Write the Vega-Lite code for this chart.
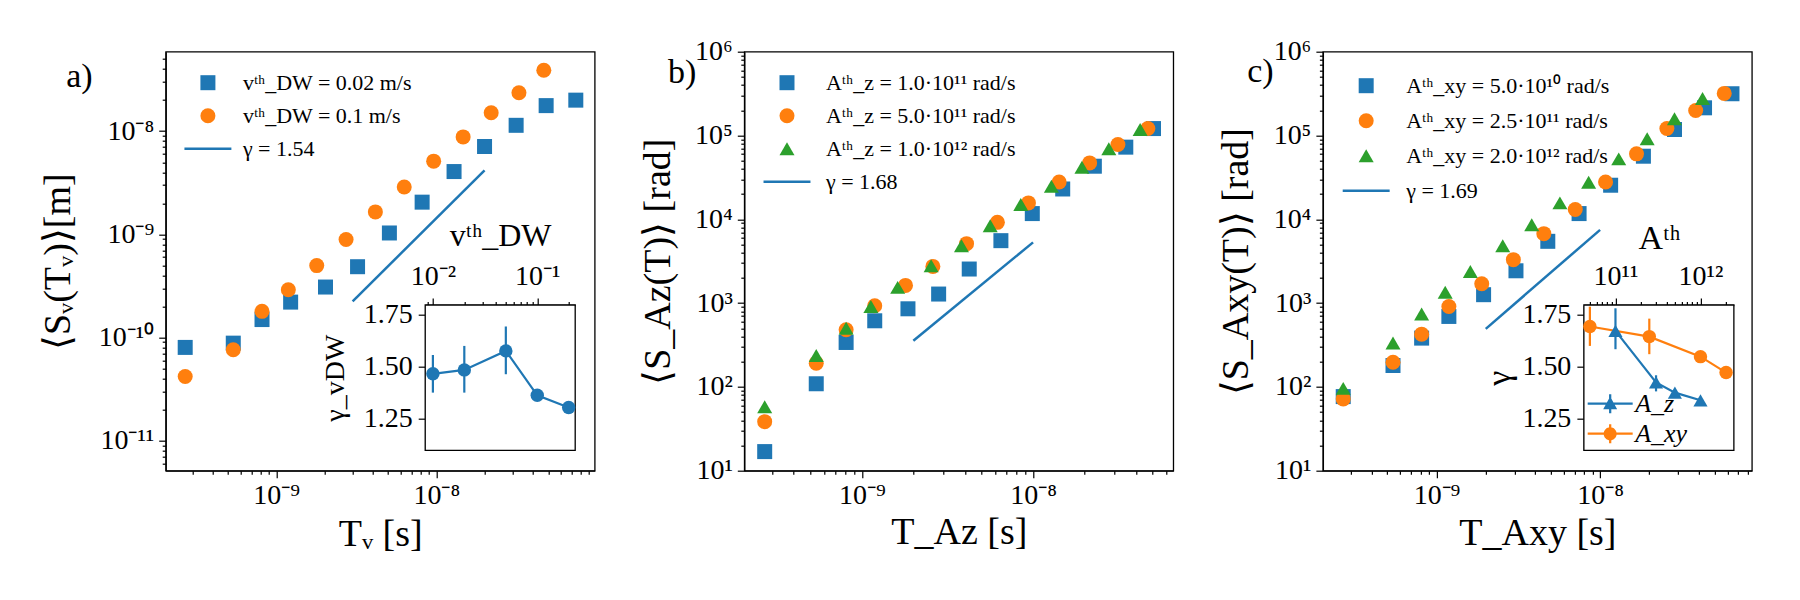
{
"$schema": "https://vega.github.io/schema/vega-lite/v6.json",
"background": "white",
"padding": {"left": 38.7, "top": 36.7, "right": 5, "bottom": 5},
"bounds": "flush",
"spacing": 149.6,
"config": {
  "font": "Liberation Serif",
  "view": {"stroke": "black", "strokeWidth": 1.3},
  "axis": {"grid": false, "domainColor": "black", "domainWidth": 1.3, "tickColor": "black", "tickWidth": 1.2, "labelColor": "black", "titleColor": "black", "labelFont": "Liberation Serif", "titleFont": "Liberation Serif", "titleFontWeight": "normal", "labelFontSize": 28, "titleFontSize": 38, "labelOverlap": false, "labelFlush": false, "titleBaseline": "middle"},
  "legend": {"labelFont": "Liberation Serif", "labelColor": "black", "labelFontSize": 22, "labelLimit": 600, "symbolStrokeWidth": 0, "padding": 0},
  "title": {"font": "Liberation Serif", "fontWeight": "normal", "fontSize": 34, "color": "black"}
},
"datasets": {
  "a_main": [
    {"series": "vᵗʰ_DW = 0.02 m/s", "T": 2.70e-10, "S": 8.0e-11},
    {"series": "vᵗʰ_DW = 0.02 m/s", "T": 5.39e-10, "S": 8.8e-11},
    {"series": "vᵗʰ_DW = 0.02 m/s", "T": 8.15e-10, "S": 1.49e-10},
    {"series": "vᵗʰ_DW = 0.02 m/s", "T": 1.23e-9, "S": 2.2e-10},
    {"series": "vᵗʰ_DW = 0.02 m/s", "T": 2.03e-9, "S": 3.08e-10},
    {"series": "vᵗʰ_DW = 0.02 m/s", "T": 3.22e-9, "S": 4.85e-10},
    {"series": "vᵗʰ_DW = 0.02 m/s", "T": 5.09e-9, "S": 1.03e-9},
    {"series": "vᵗʰ_DW = 0.02 m/s", "T": 8.15e-9, "S": 2.05e-9},
    {"series": "vᵗʰ_DW = 0.02 m/s", "T": 1.29e-8, "S": 4.06e-9},
    {"series": "vᵗʰ_DW = 0.02 m/s", "T": 2.0e-8, "S": 7.1e-9},
    {"series": "vᵗʰ_DW = 0.02 m/s", "T": 3.15e-8, "S": 1.14e-8},
    {"series": "vᵗʰ_DW = 0.02 m/s", "T": 4.85e-8, "S": 1.77e-8},
    {"series": "vᵗʰ_DW = 0.02 m/s", "T": 7.43e-8, "S": 2.0e-8},
    {"series": "vᵗʰ_DW = 0.1 m/s", "T": 2.70e-10, "S": 4.18e-11},
    {"series": "vᵗʰ_DW = 0.1 m/s", "T": 5.39e-10, "S": 7.6e-11},
    {"series": "vᵗʰ_DW = 0.1 m/s", "T": 8.15e-10, "S": 1.79e-10},
    {"series": "vᵗʰ_DW = 0.1 m/s", "T": 1.19e-9, "S": 2.9e-10},
    {"series": "vᵗʰ_DW = 0.1 m/s", "T": 1.79e-9, "S": 4.97e-10},
    {"series": "vᵗʰ_DW = 0.1 m/s", "T": 2.73e-9, "S": 8.9e-10},
    {"series": "vᵗʰ_DW = 0.1 m/s", "T": 4.16e-9, "S": 1.65e-9},
    {"series": "vᵗʰ_DW = 0.1 m/s", "T": 6.3e-9, "S": 2.88e-9},
    {"series": "vᵗʰ_DW = 0.1 m/s", "T": 9.62e-9, "S": 5.12e-9},
    {"series": "vᵗʰ_DW = 0.1 m/s", "T": 1.47e-8, "S": 8.8e-9},
    {"series": "vᵗʰ_DW = 0.1 m/s", "T": 2.2e-8, "S": 1.51e-8},
    {"series": "vᵗʰ_DW = 0.1 m/s", "T": 3.28e-8, "S": 2.36e-8},
    {"series": "vᵗʰ_DW = 0.1 m/s", "T": 4.69e-8, "S": 3.9e-8}
  ],
  "a_fit": [{"T": 3e-9, "S": 2.24e-10}, {"T": 2e-8, "S": 4.16e-9}],
  "a_inset": [
    {"v": 0.01, "gamma": 1.465, "lo": 1.374, "hi": 1.556},
    {"v": 0.02, "gamma": 1.484, "lo": 1.374, "hi": 1.600},
    {"v": 0.05, "gamma": 1.576, "lo": 1.463, "hi": 1.694},
    {"v": 0.1, "gamma": 1.361, "lo": null, "hi": null},
    {"v": 0.2, "gamma": 1.302, "lo": null, "hi": null}
  ],
  "b_main": [
    {"series": "Aᵗʰ_z = 1.0·10¹¹ rad/s", "T": 2.71e-10, "S": 16.9},
    {"series": "Aᵗʰ_z = 1.0·10¹¹ rad/s", "T": 5.42e-10, "S": 109},
    {"series": "Aᵗʰ_z = 1.0·10¹¹ rad/s", "T": 8.1e-10, "S": 339},
    {"series": "Aᵗʰ_z = 1.0·10¹¹ rad/s", "T": 1.19e-9, "S": 615},
    {"series": "Aᵗʰ_z = 1.0·10¹¹ rad/s", "T": 1.86e-9, "S": 855},
    {"series": "Aᵗʰ_z = 1.0·10¹¹ rad/s", "T": 2.81e-9, "S": 1282},
    {"series": "Aᵗʰ_z = 1.0·10¹¹ rad/s", "T": 4.24e-9, "S": 2550},
    {"series": "Aᵗʰ_z = 1.0·10¹¹ rad/s", "T": 6.49e-9, "S": 5560},
    {"series": "Aᵗʰ_z = 1.0·10¹¹ rad/s", "T": 9.9e-9, "S": 11700},
    {"series": "Aᵗʰ_z = 1.0·10¹¹ rad/s", "T": 1.49e-8, "S": 23000},
    {"series": "Aᵗʰ_z = 1.0·10¹¹ rad/s", "T": 2.28e-8, "S": 43000},
    {"series": "Aᵗʰ_z = 1.0·10¹¹ rad/s", "T": 3.48e-8, "S": 72600},
    {"series": "Aᵗʰ_z = 1.0·10¹¹ rad/s", "T": 5.05e-8, "S": 121000},
    {"series": "Aᵗʰ_z = 5.0·10¹¹ rad/s", "T": 2.71e-10, "S": 38.5},
    {"series": "Aᵗʰ_z = 5.0·10¹¹ rad/s", "T": 5.42e-10, "S": 192},
    {"series": "Aᵗʰ_z = 5.0·10¹¹ rad/s", "T": 8.1e-10, "S": 480},
    {"series": "Aᵗʰ_z = 5.0·10¹¹ rad/s", "T": 1.19e-9, "S": 929},
    {"series": "Aᵗʰ_z = 5.0·10¹¹ rad/s", "T": 1.80e-9, "S": 1625},
    {"series": "Aᵗʰ_z = 5.0·10¹¹ rad/s", "T": 2.60e-9, "S": 2740},
    {"series": "Aᵗʰ_z = 5.0·10¹¹ rad/s", "T": 4.09e-9, "S": 5120},
    {"series": "Aᵗʰ_z = 5.0·10¹¹ rad/s", "T": 6.19e-9, "S": 9200},
    {"series": "Aᵗʰ_z = 5.0·10¹¹ rad/s", "T": 9.4e-9, "S": 15700},
    {"series": "Aᵗʰ_z = 5.0·10¹¹ rad/s", "T": 1.42e-8, "S": 27900},
    {"series": "Aᵗʰ_z = 5.0·10¹¹ rad/s", "T": 2.14e-8, "S": 47100},
    {"series": "Aᵗʰ_z = 5.0·10¹¹ rad/s", "T": 3.13e-8, "S": 78000},
    {"series": "Aᵗʰ_z = 5.0·10¹¹ rad/s", "T": 4.68e-8, "S": 121000},
    {"series": "Aᵗʰ_z = 1.0·10¹² rad/s", "T": 2.71e-10, "S": 58},
    {"series": "Aᵗʰ_z = 1.0·10¹² rad/s", "T": 5.42e-10, "S": 237},
    {"series": "Aᵗʰ_z = 1.0·10¹² rad/s", "T": 8.1e-10, "S": 502},
    {"series": "Aᵗʰ_z = 1.0·10¹² rad/s", "T": 1.13e-9, "S": 912},
    {"series": "Aᵗʰ_z = 1.0·10¹² rad/s", "T": 1.62e-9, "S": 1540},
    {"series": "Aᵗʰ_z = 1.0·10¹² rad/s", "T": 2.54e-9, "S": 2790},
    {"series": "Aᵗʰ_z = 1.0·10¹² rad/s", "T": 3.82e-9, "S": 4840},
    {"series": "Aᵗʰ_z = 1.0·10¹² rad/s", "T": 5.62e-9, "S": 8400},
    {"series": "Aᵗʰ_z = 1.0·10¹² rad/s", "T": 8.48e-9, "S": 15000},
    {"series": "Aᵗʰ_z = 1.0·10¹² rad/s", "T": 1.28e-8, "S": 24800},
    {"series": "Aᵗʰ_z = 1.0·10¹² rad/s", "T": 1.93e-8, "S": 41800},
    {"series": "Aᵗʰ_z = 1.0·10¹² rad/s", "T": 2.77e-8, "S": 69300},
    {"series": "Aᵗʰ_z = 1.0·10¹² rad/s", "T": 4.22e-8, "S": 118000}
  ],
  "b_fit": [{"T": 2e-9, "S": 355}, {"T": 1e-8, "S": 5304}],
  "c_main": [
    {"series": "Aᵗʰ_xy = 5.0·10¹⁰ rad/s", "T": 2.69e-10, "S": 76.6},
    {"series": "Aᵗʰ_xy = 5.0·10¹⁰ rad/s", "T": 5.42e-10, "S": 180},
    {"series": "Aᵗʰ_xy = 5.0·10¹⁰ rad/s", "T": 8.11e-10, "S": 382},
    {"series": "Aᵗʰ_xy = 5.0·10¹⁰ rad/s", "T": 1.19e-9, "S": 693},
    {"series": "Aᵗʰ_xy = 5.0·10¹⁰ rad/s", "T": 1.94e-9, "S": 1260},
    {"series": "Aᵗʰ_xy = 5.0·10¹⁰ rad/s", "T": 3.06e-9, "S": 2430},
    {"series": "Aᵗʰ_xy = 5.0·10¹⁰ rad/s", "T": 4.79e-9, "S": 5460},
    {"series": "Aᵗʰ_xy = 5.0·10¹⁰ rad/s", "T": 7.44e-9, "S": 11700},
    {"series": "Aᵗʰ_xy = 5.0·10¹⁰ rad/s", "T": 1.16e-8, "S": 25500},
    {"series": "Aᵗʰ_xy = 5.0·10¹⁰ rad/s", "T": 1.84e-8, "S": 56600},
    {"series": "Aᵗʰ_xy = 5.0·10¹⁰ rad/s", "T": 2.85e-8, "S": 118000},
    {"series": "Aᵗʰ_xy = 5.0·10¹⁰ rad/s", "T": 4.35e-8, "S": 214000},
    {"series": "Aᵗʰ_xy = 5.0·10¹⁰ rad/s", "T": 6.4e-8, "S": 315000},
    {"series": "Aᵗʰ_xy = 2.5·10¹¹ rad/s", "T": 2.69e-10, "S": 71.9},
    {"series": "Aᵗʰ_xy = 2.5·10¹¹ rad/s", "T": 5.42e-10, "S": 197},
    {"series": "Aᵗʰ_xy = 2.5·10¹¹ rad/s", "T": 8.11e-10, "S": 426},
    {"series": "Aᵗʰ_xy = 2.5·10¹¹ rad/s", "T": 1.19e-9, "S": 912},
    {"series": "Aᵗʰ_xy = 2.5·10¹¹ rad/s", "T": 1.89e-9, "S": 1700},
    {"series": "Aᵗʰ_xy = 2.5·10¹¹ rad/s", "T": 2.95e-9, "S": 3300},
    {"series": "Aᵗʰ_xy = 2.5·10¹¹ rad/s", "T": 4.53e-9, "S": 6740},
    {"series": "Aᵗʰ_xy = 2.5·10¹¹ rad/s", "T": 7.05e-9, "S": 13100},
    {"series": "Aᵗʰ_xy = 2.5·10¹¹ rad/s", "T": 1.08e-8, "S": 27900},
    {"series": "Aᵗʰ_xy = 2.5·10¹¹ rad/s", "T": 1.67e-8, "S": 60400},
    {"series": "Aᵗʰ_xy = 2.5·10¹¹ rad/s", "T": 2.56e-8, "S": 121000},
    {"series": "Aᵗʰ_xy = 2.5·10¹¹ rad/s", "T": 3.84e-8, "S": 199000},
    {"series": "Aᵗʰ_xy = 2.5·10¹¹ rad/s", "T": 5.74e-8, "S": 318000},
    {"series": "Aᵗʰ_xy = 2.0·10¹² rad/s", "T": 2.69e-10, "S": 96},
    {"series": "Aᵗʰ_xy = 2.0·10¹² rad/s", "T": 5.42e-10, "S": 333},
    {"series": "Aᵗʰ_xy = 2.0·10¹² rad/s", "T": 8.11e-10, "S": 740},
    {"series": "Aᵗʰ_xy = 2.0·10¹² rad/s", "T": 1.13e-9, "S": 1350},
    {"series": "Aᵗʰ_xy = 2.0·10¹² rad/s", "T": 1.61e-9, "S": 2390},
    {"series": "Aᵗʰ_xy = 2.0·10¹² rad/s", "T": 2.54e-9, "S": 4840},
    {"series": "Aᵗʰ_xy = 2.0·10¹² rad/s", "T": 3.82e-9, "S": 8630},
    {"series": "Aᵗʰ_xy = 2.0·10¹² rad/s", "T": 5.68e-9, "S": 15700},
    {"series": "Aᵗʰ_xy = 2.0·10¹² rad/s", "T": 8.51e-9, "S": 27700},
    {"series": "Aᵗʰ_xy = 2.0·10¹² rad/s", "T": 1.30e-8, "S": 52600},
    {"series": "Aᵗʰ_xy = 2.0·10¹² rad/s", "T": 1.94e-8, "S": 91200},
    {"series": "Aᵗʰ_xy = 2.0·10¹² rad/s", "T": 2.85e-8, "S": 158000},
    {"series": "Aᵗʰ_xy = 2.0·10¹² rad/s", "T": 4.23e-8, "S": 277000}
  ],
  "c_fit": [{"T": 2e-9, "S": 493}, {"T": 1e-8, "S": 7484}],
  "c_inset": [
    {"series": "A_z", "A": 1e11, "gamma": 1.673, "lo": 1.584, "hi": 1.782},
    {"series": "A_z", "A": 3e11, "gamma": 1.423, "lo": 1.380, "hi": 1.458},
    {"series": "A_z", "A": 5e11, "gamma": 1.374, "lo": null, "hi": null},
    {"series": "A_z", "A": 1e12, "gamma": 1.337, "lo": null, "hi": null},
    {"series": "A_xy", "A": 5e10, "gamma": 1.694, "lo": 1.600, "hi": 1.790},
    {"series": "A_xy", "A": 2.5e11, "gamma": 1.645, "lo": 1.560, "hi": 1.732},
    {"series": "A_xy", "A": 1e12, "gamma": 1.548, "lo": null, "hi": null},
    {"series": "A_xy", "A": 2e12, "gamma": 1.471, "lo": null, "hi": null}
  ]
},
"hconcat": [
  {
    "width": 429, "height": 419,
    "title": {"text": "a)", "anchor": "start", "frame": "group", "orient": "top", "baseline": "middle", "offset": 0, "dx": -99.5, "dy": 66},
    "layer": [
      {"layer": [
        {"data": {"name": "a_main"},
         "mark": {"type": "point", "filled": true, "opacity": 1, "size": 225},
         "encoding": {
           "x": {"field": "T", "type": "quantitative",
                 "scale": {"type": "log", "domain": [2.04e-10, 9.75e-8], "nice": false},
                 "axis": {"orient": "bottom", "title": "Tᵥ [s]", "titleY": 64, "values": [3e-10,4e-10,5e-10,6e-10,7e-10,8e-10,9e-10,1e-9,2e-9,3e-9,4e-9,5e-9,6e-9,7e-9,8e-9,9e-9,1e-8,2e-8,3e-8,4e-8,5e-8,6e-8,7e-8,8e-8,9e-8],
                          "labelExpr": "abs(datum.value/1e-9-1)<1e-6 ? '10⁻⁹' : abs(datum.value/1e-8-1)<1e-6 ? '10⁻⁸' : ''",
                          "tickSize": {"condition": {"test": "abs(log(datum.value)/LN10-round(log(datum.value)/LN10))<0.001", "value": 7}, "value": 3.5},
                          "labelPadding": 4}},
           "y": {"field": "S", "type": "quantitative",
                 "scale": {"type": "log", "domain": [5.1e-12, 5.9e-8], "nice": false},
                 "axis": {"orient": "left", "title": "⟨Sᵥ(Tᵥ)⟩[m]", "titleX": -106.8, "values": [6e-12,7e-12,8e-12,9e-12,1e-11,2e-11,3e-11,4e-11,5e-11,6e-11,7e-11,8e-11,9e-11,1e-10,2e-10,3e-10,4e-10,5e-10,6e-10,7e-10,8e-10,9e-10,1e-9,2e-9,3e-9,4e-9,5e-9,6e-9,7e-9,8e-9,9e-9,1e-8,2e-8,3e-8,4e-8,5e-8],
                          "labelExpr": "abs(datum.value/1e-11-1)<1e-6 ? '10⁻¹¹' : abs(datum.value/1e-10-1)<1e-6 ? '10⁻¹⁰' : abs(datum.value/1e-9-1)<1e-6 ? '10⁻⁹' : abs(datum.value/1e-8-1)<1e-6 ? '10⁻⁸' : ''",
                          "tickSize": {"condition": {"test": "abs(log(datum.value)/LN10-round(log(datum.value)/LN10))<0.001", "value": 7}, "value": 3.5},
                          "labelPadding": 5}},
           "color": {"field": "series", "type": "nominal",
                     "scale": {"domain": ["vᵗʰ_DW = 0.02 m/s", "vᵗʰ_DW = 0.1 m/s", "γ = 1.54"], "range": ["#1f77b4", "#ff7f0e", "#1f77b4"]},
                     "legend": {"orient": "none", "legendX": 31.2, "legendY": 20, "title": null, "symbolSize": 225, "labelOffset": 24, "rowPadding": 11}},
           "shape": {"field": "series", "type": "nominal",
                     "scale": {"domain": ["vᵗʰ_DW = 0.02 m/s", "vᵗʰ_DW = 0.1 m/s", "γ = 1.54"], "range": ["square", "circle", "M-3.13,-0.17H3.13V0.17H-3.13Z"]},
                     "legend": {"orient": "none", "legendX": 31.2, "legendY": 20, "title": null, "symbolSize": 225, "labelOffset": 24, "rowPadding": 11}}
         }},
        {"data": {"name": "a_fit"},
         "mark": {"type": "line", "color": "#1f77b4", "strokeWidth": 2.5},
         "encoding": {"x": {"field": "T", "type": "quantitative"}, "y": {"field": "S", "type": "quantitative"}}}
      ]},
      {"layer": [
        {"data": {"values": [{}]},
         "mark": {"type": "rect", "fill": "white", "stroke": "black", "strokeWidth": 1.3},
         "encoding": {
           "x": {"datum": 0.00844, "type": "quantitative",
                 "scale": {"type": "log", "domain": [0.00844, 0.231], "range": [259.5, 409.5], "nice": false},
                 "axis": {"orient": "top", "offset": -253.3, "title": "vᵗʰ_DW", "titleFontSize": 32, "titleY": -69, "values": [0.009,0.01,0.02,0.03,0.04,0.05,0.06,0.07,0.08,0.09,0.1,0.2],
                          "labelExpr": "abs(datum.value/0.01-1)<1e-6 ? '10⁻²' : abs(datum.value/0.1-1)<1e-6 ? '10⁻¹' : ''",
                          "tickSize": {"condition": {"test": "abs(log(datum.value)/LN10-round(log(datum.value)/LN10))<0.001", "value": 7}, "value": 3.5},
                          "labelPadding": 7}},
           "x2": {"datum": 0.231},
           "y": {"datum": 1.095, "type": "quantitative",
                 "scale": {"domain": [1.095, 1.798], "range": [398.6, 253.3], "nice": false, "zero": false},
                 "axis": {"orient": "left", "offset": -259.5, "title": "γ_vDW", "titleFontSize": 28, "titleX": -89.4, "values": [1.25, 1.5, 1.75], "format": ".2f", "tickSize": 7, "labelPadding": 6}},
           "y2": {"datum": 1.798}
         }},
        {"data": {"name": "a_inset"},
         "mark": {"type": "rule", "color": "#1f77b4", "strokeWidth": 2.2},
         "encoding": {"x": {"field": "v", "type": "quantitative"}, "y": {"field": "lo", "type": "quantitative"}, "y2": {"field": "hi"}}},
        {"data": {"name": "a_inset"},
         "mark": {"type": "line", "color": "#1f77b4", "strokeWidth": 2.2},
         "encoding": {"x": {"field": "v", "type": "quantitative"}, "y": {"field": "gamma", "type": "quantitative"}}},
        {"data": {"name": "a_inset"},
         "mark": {"type": "point", "filled": true, "opacity": 1, "color": "#1f77b4", "size": 180, "shape": "circle"},
         "encoding": {"x": {"field": "v", "type": "quantitative"}, "y": {"field": "gamma", "type": "quantitative"}}}
      ]}
    ],
    "resolve": {"scale": {"x": "independent", "y": "independent", "color": "independent", "shape": "independent"}}
  },
  {
    "width": 429, "height": 419,
    "title": {"text": "b)", "anchor": "start", "frame": "group", "orient": "top", "baseline": "middle", "offset": 0, "dx": -76.3, "dy": 69.5},
    "layer": [
      {"data": {"name": "b_main"},
       "mark": {"type": "point", "filled": true, "opacity": 1, "size": 225},
       "encoding": {
         "x": {"field": "T", "type": "quantitative",
               "scale": {"type": "log", "domain": [2.06e-10, 6.59e-8], "nice": false},
               "axis": {"orient": "bottom", "title": "T_Az [s]", "titleY": 62, "values": [3e-10,4e-10,5e-10,6e-10,7e-10,8e-10,9e-10,1e-9,2e-9,3e-9,4e-9,5e-9,6e-9,7e-9,8e-9,9e-9,1e-8,2e-8,3e-8,4e-8,5e-8,6e-8],
                        "labelExpr": "abs(datum.value/1e-9-1)<1e-6 ? '10⁻⁹' : abs(datum.value/1e-8-1)<1e-6 ? '10⁻⁸' : ''",
                        "tickSize": {"condition": {"test": "abs(log(datum.value)/LN10-round(log(datum.value)/LN10))<0.001", "value": 7}, "value": 3.5},
                        "labelPadding": 4}},
         "y": {"field": "S", "type": "quantitative",
               "scale": {"type": "log", "domain": [10, 1000000], "nice": false},
               "axis": {"orient": "left", "title": "⟨S_Az(T)⟩ [rad]", "titleX": -85.3, "values": [10,20,30,40,50,60,70,80,90,100,200,300,400,500,600,700,800,900,1000,2000,3000,4000,5000,6000,7000,8000,9000,10000,20000,30000,40000,50000,60000,70000,80000,90000,100000,200000,300000,400000,500000,600000,700000,800000,900000,1000000],
                        "labelExpr": "datum.value==10?'10¹':datum.value==100?'10²':datum.value==1000?'10³':datum.value==10000?'10⁴':datum.value==100000?'10⁵':datum.value==1000000?'10⁶':''",
                        "tickSize": {"condition": {"test": "abs(log(datum.value)/LN10-round(log(datum.value)/LN10))<0.001", "value": 7}, "value": 3.5},
                        "labelPadding": 5}},
         "color": {"field": "series", "type": "nominal",
                   "scale": {"domain": ["Aᵗʰ_z = 1.0·10¹¹ rad/s", "Aᵗʰ_z = 5.0·10¹¹ rad/s", "Aᵗʰ_z = 1.0·10¹² rad/s", "γ = 1.68"], "range": ["#1f77b4", "#ff7f0e", "#2ca02c", "#1f77b4"]},
                   "legend": {"orient": "none", "legendX": 31.7, "legendY": 20, "title": null, "symbolSize": 225, "labelOffset": 28, "rowPadding": 11}},
         "shape": {"field": "series", "type": "nominal",
                   "scale": {"domain": ["Aᵗʰ_z = 1.0·10¹¹ rad/s", "Aᵗʰ_z = 5.0·10¹¹ rad/s", "Aᵗʰ_z = 1.0·10¹² rad/s", "γ = 1.68"], "range": ["square", "circle", "triangle-up", "M-3.13,-0.17H3.13V0.17H-3.13Z"]},
                   "legend": {"orient": "none", "legendX": 31.7, "legendY": 20, "title": null, "symbolSize": 225, "labelOffset": 28, "rowPadding": 11}}
       }},
      {"data": {"name": "b_fit"},
       "mark": {"type": "line", "color": "#1f77b4", "strokeWidth": 2.5},
       "encoding": {"x": {"field": "T", "type": "quantitative"}, "y": {"field": "S", "type": "quantitative"}}}
    ],
    "resolve": {"scale": {"color": "independent", "shape": "independent"}}
  },
  {
    "width": 429, "height": 419,
    "title": {"text": "c)", "anchor": "start", "frame": "group", "orient": "top", "baseline": "middle", "offset": 0, "dx": -75.7, "dy": 68.5},
    "layer": [
      {"layer": [
        {"data": {"name": "c_main"},
         "mark": {"type": "point", "filled": true, "opacity": 1, "size": 225},
         "encoding": {
           "x": {"field": "T", "type": "quantitative",
                 "scale": {"type": "log", "domain": [2.02e-10, 8.47e-8], "nice": false},
                 "axis": {"orient": "bottom", "title": "T_Axy [s]", "titleY": 63, "values": [3e-10,4e-10,5e-10,6e-10,7e-10,8e-10,9e-10,1e-9,2e-9,3e-9,4e-9,5e-9,6e-9,7e-9,8e-9,9e-9,1e-8,2e-8,3e-8,4e-8,5e-8,6e-8,7e-8,8e-8],
                          "labelExpr": "abs(datum.value/1e-9-1)<1e-6 ? '10⁻⁹' : abs(datum.value/1e-8-1)<1e-6 ? '10⁻⁸' : ''",
                          "tickSize": {"condition": {"test": "abs(log(datum.value)/LN10-round(log(datum.value)/LN10))<0.001", "value": 7}, "value": 3.5},
                          "labelPadding": 4}},
           "y": {"field": "S", "type": "quantitative",
                 "scale": {"type": "log", "domain": [10, 1000000], "nice": false},
                 "axis": {"orient": "left", "title": "⟨S_Axy(T)⟩ [rad]", "titleX": -86.7, "values": [10,20,30,40,50,60,70,80,90,100,200,300,400,500,600,700,800,900,1000,2000,3000,4000,5000,6000,7000,8000,9000,10000,20000,30000,40000,50000,60000,70000,80000,90000,100000,200000,300000,400000,500000,600000,700000,800000,900000,1000000],
                          "labelExpr": "datum.value==10?'10¹':datum.value==100?'10²':datum.value==1000?'10³':datum.value==10000?'10⁴':datum.value==100000?'10⁵':datum.value==1000000?'10⁶':''",
                          "tickSize": {"condition": {"test": "abs(log(datum.value)/LN10-round(log(datum.value)/LN10))<0.001", "value": 7}, "value": 3.5},
                          "labelPadding": 5}},
           "color": {"field": "series", "type": "nominal",
                     "scale": {"domain": ["Aᵗʰ_xy = 5.0·10¹⁰ rad/s", "Aᵗʰ_xy = 2.5·10¹¹ rad/s", "Aᵗʰ_xy = 2.0·10¹² rad/s", "γ = 1.69"], "range": ["#1f77b4", "#ff7f0e", "#2ca02c", "#1f77b4"]},
                     "legend": {"orient": "none", "legendX": 32.3, "legendY": 23, "title": null, "symbolSize": 225, "labelOffset": 29, "rowPadding": 13}},
           "shape": {"field": "series", "type": "nominal",
                     "scale": {"domain": ["Aᵗʰ_xy = 5.0·10¹⁰ rad/s", "Aᵗʰ_xy = 2.5·10¹¹ rad/s", "Aᵗʰ_xy = 2.0·10¹² rad/s", "γ = 1.69"], "range": ["square", "circle", "triangle-up", "M-3.13,-0.17H3.13V0.17H-3.13Z"]},
                     "legend": {"orient": "none", "legendX": 32.3, "legendY": 23, "title": null, "symbolSize": 225, "labelOffset": 29, "rowPadding": 13}}
         }},
        {"data": {"name": "c_fit"},
         "mark": {"type": "line", "color": "#1f77b4", "strokeWidth": 2.5},
         "encoding": {"x": {"field": "T", "type": "quantitative"}, "y": {"field": "S", "type": "quantitative"}}}
      ]},
      {"layer": [
        {"data": {"values": [{}]},
         "mark": {"type": "rect", "fill": "white", "stroke": "black", "strokeWidth": 1.3},
         "encoding": {
           "x": {"datum": 4.25e10, "type": "quantitative",
                 "scale": {"type": "log", "domain": [4.25e10, 2.47e12], "range": [261, 411], "nice": false},
                 "axis": {"orient": "top", "offset": -253.3, "title": "Aᵗʰ", "titleFontSize": 34, "titleY": -66, "values": [5e10,6e10,7e10,8e10,9e10,1e11,2e11,3e11,4e11,5e11,6e11,7e11,8e11,9e11,1e12,2e12],
                          "labelExpr": "abs(datum.value/1e11-1)<1e-6 ? '10¹¹' : abs(datum.value/1e12-1)<1e-6 ? '10¹²' : ''",
                          "tickSize": {"condition": {"test": "abs(log(datum.value)/LN10-round(log(datum.value)/LN10))<0.001", "value": 7}, "value": 3.5},
                          "labelPadding": 7}},
           "x2": {"datum": 2.47e12},
           "y": {"datum": 1.095, "type": "quantitative",
                 "scale": {"domain": [1.095, 1.798], "range": [398.6, 253.3], "nice": false, "zero": false},
                 "axis": {"orient": "left", "offset": -261, "title": "γ", "titleFontSize": 34, "titleX": -84.7, "values": [1.25, 1.5, 1.75], "format": ".2f", "tickSize": 7, "labelPadding": 6}},
           "y2": {"datum": 1.798}
         }},
        {"data": {"name": "c_inset"}, "transform": [{"filter": "datum.series === 'A_z'"}],
         "mark": {"type": "rule", "color": "#1f77b4", "strokeWidth": 2.2},
         "encoding": {"x": {"field": "A", "type": "quantitative"}, "y": {"field": "lo", "type": "quantitative"}, "y2": {"field": "hi"}}},
        {"data": {"name": "c_inset"}, "transform": [{"filter": "datum.series === 'A_xy'"}],
         "mark": {"type": "rule", "color": "#ff7f0e", "strokeWidth": 2.2},
         "encoding": {"x": {"field": "A", "type": "quantitative"}, "y": {"field": "lo", "type": "quantitative"}, "y2": {"field": "hi"}}},
        {"data": {"name": "c_inset"}, "transform": [{"filter": "datum.series === 'A_z'"}],
         "mark": {"type": "line", "color": "#1f77b4", "strokeWidth": 2.2},
         "encoding": {"x": {"field": "A", "type": "quantitative"}, "y": {"field": "gamma", "type": "quantitative"}}},
        {"data": {"name": "c_inset"}, "transform": [{"filter": "datum.series === 'A_xy'"}],
         "mark": {"type": "line", "color": "#ff7f0e", "strokeWidth": 2.2},
         "encoding": {"x": {"field": "A", "type": "quantitative"}, "y": {"field": "gamma", "type": "quantitative"}}},
        {"data": {"name": "c_inset"}, "transform": [{"filter": "datum.series === 'A_z'"}],
         "mark": {"type": "point", "filled": true, "opacity": 1, "size": 200, "shape": "triangle-up"},
         "encoding": {
           "x": {"field": "A", "type": "quantitative"},
           "y": {"field": "gamma", "type": "quantitative"},
           "color": {"field": "series", "type": "nominal", "scale": {"domain": ["A_z"], "range": ["#1f77b4"]},
                     "legend": {"orient": "none", "legendX": 274.3, "legendY": 339, "title": null, "symbolSize": 225, "labelFontSize": 26, "labelFontStyle": "italic", "labelOffset": 12,
                                "symbolType": "M-3,-0.15H3V0.15H-3Z M-0.15,-1.27H0.15V1.27H-0.15Z M0,-0.95L0.93,0.75H-0.93Z"}}
         }},
        {"data": {"name": "c_inset"}, "transform": [{"filter": "datum.series === 'A_xy'"}],
         "mark": {"type": "point", "filled": true, "opacity": 1, "size": 180, "shape": "circle"},
         "encoding": {
           "x": {"field": "A", "type": "quantitative"},
           "y": {"field": "gamma", "type": "quantitative"},
           "color": {"field": "series", "type": "nominal", "scale": {"domain": ["A_xy"], "range": ["#ff7f0e"]},
                     "legend": {"orient": "none", "legendX": 274.3, "legendY": 369, "title": null, "symbolSize": 225, "labelFontSize": 26, "labelFontStyle": "italic", "labelOffset": 12,
                                "symbolType": "M-3,-0.15H3V0.15H-3Z M-0.15,-1.27H0.15V1.27H-0.15Z M0.87,0A0.87,0.87,0,1,1,-0.87,0A0.87,0.87,0,1,1,0.87,0Z"}}
         }}
      ],
      "resolve": {"scale": {"color": "independent"}}}
    ],
    "resolve": {"scale": {"x": "independent", "y": "independent", "color": "independent", "shape": "independent"}}
  }
]
}
